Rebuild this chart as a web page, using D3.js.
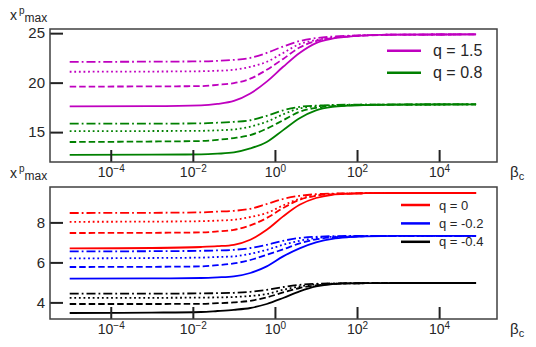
<!DOCTYPE html>
<meta charset="utf-8">
<style>
body { margin: 0; background: #fff; }
text { font-family: "Liberation Sans", Arial, sans-serif; fill: #262626; }
.frame { fill: none; stroke: #404040; stroke-width: 1.5; }
.tick line { stroke: #222; stroke-width: 2; }
.domain { display: none; }
.curve { fill: none; stroke-width: 1.8; }
</style>
<svg width="536" height="347"></svg>
<script src="https://d3js.org/d3.v7.min.js"></script>
<script>

// log10(beta_c) sample points
var logBeta = [-5, -3, -1.8, -1.4, -1, -0.6, -0.2, 0.2, 0.6, 1, 1.4, 1.8, 2.2, 3, 4.9];

// top panel, q = 1.5 (magenta)
var q15Solid   = [17.6, 17.62, 17.7, 17.85, 18.15, 18.9, 20.1, 21.6, 23.0, 24.0, 24.45, 24.65, 24.78, 24.85, 24.87];
var q15Dashed  = [19.6, 19.62, 19.65, 19.78, 19.95, 20.4, 21.3, 22.4, 23.55, 24.2, 24.5, 24.67, 24.76, 24.85, 24.87];
var q15Dotted  = [21.1, 21.12, 21.15, 21.2, 21.3, 21.6, 22.1, 23.0, 23.9, 24.3, 24.55, 24.7, 24.78, 24.85, 24.87];
var q15DashDot = [22.1, 22.12, 22.15, 22.2, 22.3, 22.5, 23.0, 23.65, 24.2, 24.5, 24.65, 24.74, 24.8, 24.85, 24.87];

// top panel, q = 0.8 (green)
var q08Solid   = [12.7, 12.72, 12.75, 12.82, 12.95, 13.35, 14.0, 15.2, 16.4, 17.2, 17.55, 17.67, 17.73, 17.78, 17.8];
var q08Dashed  = [14.0, 14.05, 14.1, 14.22, 14.4, 14.7, 15.35, 16.2, 17.05, 17.45, 17.62, 17.7, 17.75, 17.78, 17.8];
var q08Dotted  = [15.1, 15.11, 15.13, 15.18, 15.27, 15.55, 16.05, 16.8, 17.4, 17.6, 17.7, 17.74, 17.77, 17.78, 17.8];
var q08DashDot = [15.85, 15.86, 15.88, 15.95, 16.04, 16.2, 16.65, 17.2, 17.55, 17.68, 17.74, 17.77, 17.78, 17.79, 17.8];

// bottom panel, q = 0 (red)
var q0Solid   = [6.7, 6.72, 6.77, 6.81, 6.88, 7.13, 7.63, 8.3, 8.88, 9.22, 9.38, 9.43, 9.46, 9.47, 9.47];
var q0Dashed  = [7.47, 7.48, 7.5, 7.55, 7.63, 7.85, 8.22, 8.72, 9.13, 9.33, 9.41, 9.44, 9.46, 9.47, 9.47];
var q0Dotted  = [8.03, 8.04, 8.06, 8.09, 8.13, 8.27, 8.47, 8.85, 9.18, 9.35, 9.42, 9.45, 9.46, 9.47, 9.47];
var q0DashDot = [8.47, 8.48, 8.5, 8.54, 8.58, 8.68, 8.92, 9.17, 9.33, 9.41, 9.44, 9.45, 9.46, 9.47, 9.47];

// bottom panel, q = -0.2 (blue)
var qm2Solid   = [5.19, 5.2, 5.22, 5.25, 5.3, 5.47, 5.8, 6.3, 6.7, 7.0, 7.18, 7.26, 7.3, 7.33, 7.33];
var qm2Dashed  = [5.77, 5.78, 5.8, 5.86, 5.95, 6.12, 6.38, 6.65, 6.95, 7.15, 7.25, 7.29, 7.31, 7.33, 7.33];
var qm2Dotted  = [6.2, 6.22, 6.24, 6.27, 6.3, 6.43, 6.63, 6.88, 7.08, 7.22, 7.28, 7.3, 7.32, 7.33, 7.33];
var qm2DashDot = [6.55, 6.56, 6.58, 6.6, 6.63, 6.72, 6.88, 7.08, 7.22, 7.28, 7.31, 7.32, 7.32, 7.33, 7.33];

// bottom panel, q = -0.4 (black)
var qm4Solid   = [3.47, 3.49, 3.52, 3.57, 3.63, 3.72, 3.92, 4.22, 4.55, 4.8, 4.92, 4.95, 4.96, 4.97, 4.97];
var qm4Dashed  = [3.92, 3.92, 3.93, 3.96, 4.0, 4.08, 4.25, 4.5, 4.72, 4.85, 4.92, 4.95, 4.96, 4.97, 4.97];
var qm4Dotted  = [4.23, 4.23, 4.24, 4.25, 4.27, 4.32, 4.42, 4.63, 4.8, 4.9, 4.94, 4.95, 4.96, 4.97, 4.97];
var qm4DashDot = [4.44, 4.44, 4.45, 4.46, 4.48, 4.53, 4.63, 4.77, 4.88, 4.93, 4.95, 4.96, 4.96, 4.97, 4.97];

var xTicks = [-4, -2, 0, 2, 4];
var topYTicks = [15, 20, 25];
var botYTicks = [4, 6, 8];
var topLegend = ["q = 1.5", "q = 0.8"];
var botLegend = ["q = 0", "q = -0.2", "q = -0.4"];

var dashes = [null, "6.5,3", "1.8,2.8", "9,3,1.8,3"];

var svg = d3.select("svg");

var x = d3.scaleLog()
    .domain([Math.pow(10, -5.48), Math.pow(10, 5.41)])
    .range([50, 497]);

function panel(top, bottom, domain, yTicks, groups, legend, lx, ly, lgap, lsize) {
  var y = d3.scaleLinear().domain(domain).range([bottom, top]);
  var g = svg.append("g");

  var line = d3.line()
      .x(function(d) { return x(Math.pow(10, d[0])); })
      .y(function(d) { return y(d[1]); })
      .curve(d3.curveMonotoneX);

  groups.forEach(function(grp) {
    grp.series.forEach(function(vals, i) {
      g.append("path")
          .attr("class", "curve")
          .attr("stroke", grp.color)
          .attr("stroke-dasharray", dashes[i])
          .attr("d", line(logBeta.map(function(b, j) { return [b, vals[j]]; })));
    });
  });

  var xa = g.append("g")
      .attr("transform", "translate(0," + bottom + ")")
      .call(d3.axisBottom(x)
        .tickValues(xTicks.map(function(e) { return Math.pow(10, e); }))
        .tickSizeInner(-12).tickSizeOuter(0).tickPadding(5));
  xa.selectAll(".tick text").each(function(d) {
    var e = Math.round(Math.log10(d));
    var t = d3.select(this).text("").attr("font-size", 14);
    t.append("tspan").text("10");
    t.append("tspan").attr("dy", "-0.45em").attr("font-size", 10)
        .text(e < 0 ? "\u2212" + (-e) : e);
  });

  g.append("g")
      .attr("transform", "translate(50,0)")
      .call(d3.axisLeft(y).tickValues(yTicks).tickFormat(d3.format("d"))
        .tickSizeInner(-13).tickSizeOuter(0).tickPadding(5))
      .selectAll(".tick text").attr("font-size", 15);

  g.selectAll(".domain").remove();

  g.append("rect")
      .attr("class", "frame")
      .attr("x", 50).attr("y", top)
      .attr("width", 447).attr("height", bottom - top);

  // y label x^p_max
  var yl = g.append("text").attr("x", 10).attr("y", top - 9).attr("font-size", 14);
  yl.append("tspan").text("x");
  yl.append("tspan").attr("dy", -6).attr("dx", 2).attr("font-size", 10).text("p");
  yl.append("tspan").attr("dy", 8).attr("font-size", 12).text("max");

  // x label beta_c
  var xl = g.append("text").attr("x", 510).attr("y", bottom + 15).attr("font-size", 15);
  xl.append("tspan").text("\u03b2");
  xl.append("tspan").attr("dy", 3).attr("font-size", 11).text("c");

  legend.forEach(function(label, i) {
    var yy = ly + i * lgap;
    g.append("line")
        .attr("x1", lx).attr("x2", lx + (lsize > 14 ? 34 : 29))
        .attr("y1", yy).attr("y2", yy)
        .attr("stroke", groups[i].color).attr("stroke-width", 2.5);
    g.append("text")
        .attr("x", lx + (lsize > 14 ? 46 : 38)).attr("y", yy)
        .attr("dy", "0.35em").attr("font-size", lsize)
        .text(label);
  });
}

panel(29, 162, [11.98, 25.42], topYTicks, [
  { color: "#bf00bf", series: [q15Solid, q15Dashed, q15Dotted, q15DashDot] },
  { color: "#008000", series: [q08Solid, q08Dashed, q08Dotted, q08DashDot] }
], topLegend, 387, 50.7, 22, 16);

panel(187, 319, [3.17, 9.77], botYTicks, [
  { color: "#ff0000", series: [q0Solid, q0Dashed, q0Dotted, q0DashDot] },
  { color: "#0000ff", series: [qm2Solid, qm2Dashed, qm2Dotted, qm2DashDot] },
  { color: "#000000", series: [qm4Solid, qm4Dashed, qm4Dotted, qm4DashDot] }
], botLegend, 401, 205, 18.4, 13);

</script>
